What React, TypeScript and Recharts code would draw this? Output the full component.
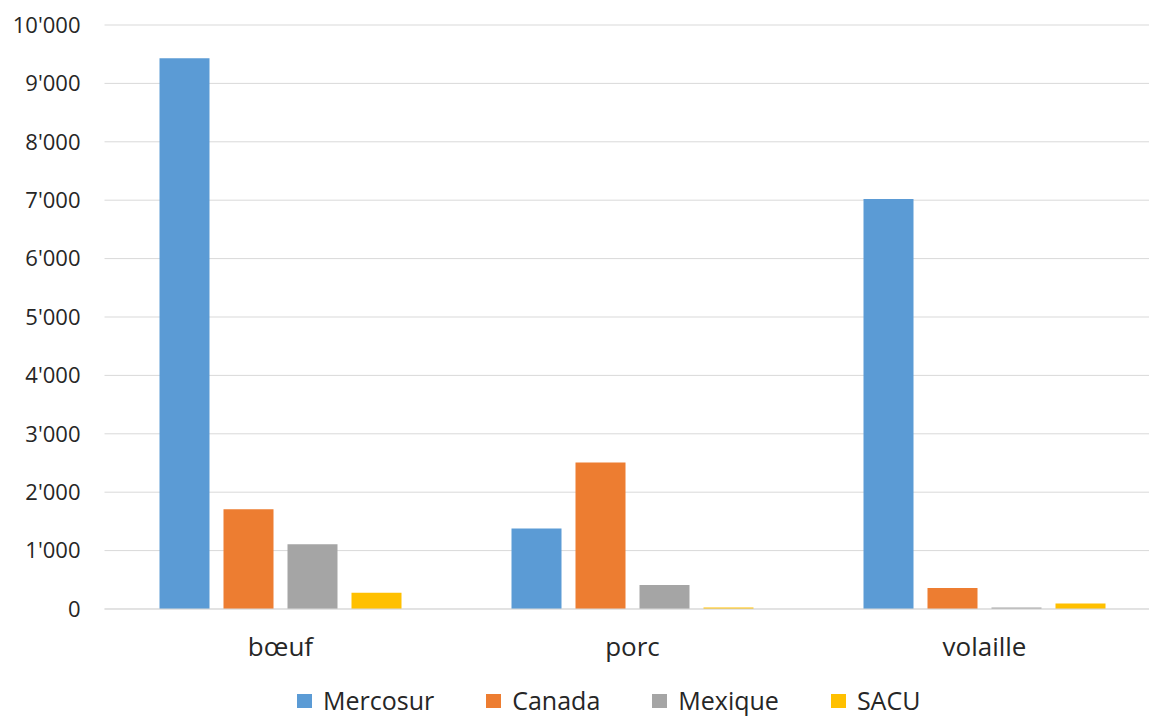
import { BarChart, Bar, XAxis, YAxis, CartesianGrid, Legend } from 'recharts'

const categories = ['bœuf', 'porc', 'volaille']
const mercosur = [9430, 1380, 7020]
const canada = [1710, 2510, 360]
const mexique = [1110, 410, 25]
const sacu = [280, 25, 95]
const yTicks = [0, 1000, 2000, 3000, 4000, 5000, 6000, 7000, 8000, 9000, 10000]

const series = [
  { key: 'Mercosur', values: mercosur, color: '#5b9bd5' },
  { key: 'Canada', values: canada, color: '#ed7d31' },
  { key: 'Mexique', values: mexique, color: '#a5a5a5' },
  { key: 'SACU', values: sacu, color: '#ffc000' },
]

const data = categories.map((name, i) => {
  const row: Record<string, string | number> = { name }
  series.forEach((s) => {
    row[s.key] = s.values[i]
  })
  return row
})

const FONT = '"Open Sans", sans-serif'
const TEXT = '#262626'

const formatThousands = (v: number) => String(v).replace(/\B(?=(\d{3})+(?!\d))/g, "'")

function LegendRow() {
  return (
    <div style={{ display: 'flex', alignItems: 'center', fontFamily: FONT, fontSize: 25, color: TEXT, lineHeight: 1 }}>
      {series.map((s, i) => (
        <div key={s.key} style={{ display: 'flex', alignItems: 'center', marginRight: i < series.length - 1 ? 52 : 0 }}>
          <span style={{ display: 'inline-block', width: 15, height: 14, background: s.color, marginRight: 11 }} />
          <span>{s.key}</span>
        </div>
      ))}
    </div>
  )
}

export default function App() {
  return (
    <div style={{ position: 'absolute', left: 0, top: 0, width: 1149, height: 717, overflow: 'hidden', background: '#fff' }}>
      <BarChart
        width={1170}
        height={717}
        data={data}
        margin={{ top: 25, right: 9.5, bottom: 0, left: 0 }}
        barSize={50}
        barGap={14}
      >
        <CartesianGrid vertical={false} stroke="#d9d9d9" strokeWidth={1} />
        <XAxis
          dataKey="name"
          height={68}
          axisLine={{ stroke: '#d9d9d9' }}
          tickLine={false}
          tickSize={0}
          tickMargin={29}
          tick={{ fontFamily: FONT, fontSize: 26, fill: TEXT }}
        />
        <YAxis
          width={104.5}
          domain={[0, 10000]}
          ticks={yTicks}
          interval={0}
          axisLine={false}
          tickLine={false}
          tickSize={0}
          tickMargin={24}
          tickFormatter={formatThousands}
          tick={{ fontFamily: FONT, fontSize: 22, fill: TEXT }}
        />
        <Legend
          verticalAlign="bottom"
          height={40}
          wrapperStyle={{ left: 297, top: 688, width: 740 }}
          content={() => <LegendRow />}
        />
        {series.map((s) => (
          <Bar key={s.key} dataKey={s.key} fill={s.color} isAnimationActive={false} />
        ))}
      </BarChart>
    </div>
  )
}
